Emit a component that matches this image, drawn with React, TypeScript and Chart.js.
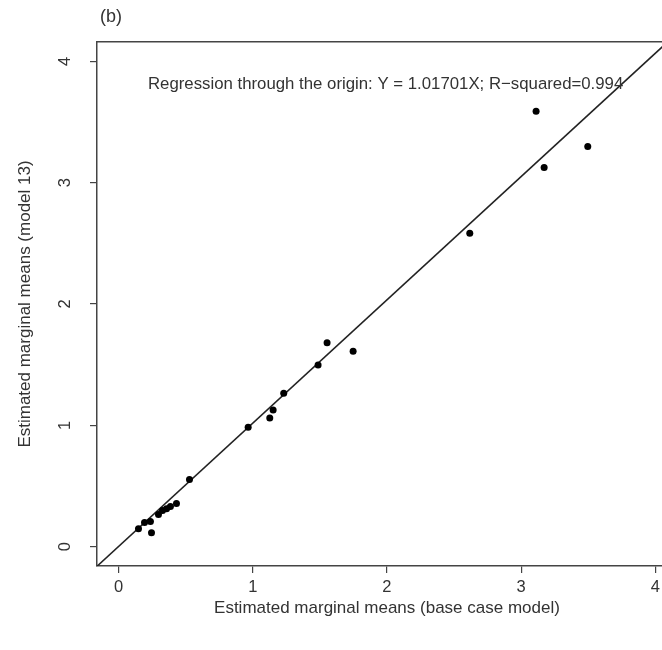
import React, { useEffect, useRef } from "react";
import { Chart, registerables } from "chart.js";

Chart.register(...registerables);

// Data: base case model (x) vs model 13 (y)
const baseCase = [0.149, 0.194, 0.238, 0.246, 0.298, 0.328, 0.358, 0.387, 0.432, 0.529, 0.966, 1.127, 1.152, 1.231, 1.487, 1.554, 1.748, 2.617, 3.111, 3.171, 3.496];
const model13 = [0.148, 0.198, 0.206, 0.115, 0.264, 0.297, 0.313, 0.33, 0.355, 0.553, 0.984, 1.061, 1.127, 1.264, 1.498, 1.68, 1.61, 2.584, 3.59, 3.126, 3.299];
const slope = 1.01701;
const lineXs = [-0.3, 4.3];
const xTicks = [0, 1, 2, 3, 4];
const yTicks = [0, 1, 2, 3, 4];
const xRange = [-0.16, 4.049];
const yRange = [-0.16, 4.16];
const regressionText = "Regression through the origin: Y = 1.01701X; R\u2212squared=0.994";
const textPos = [1.99, 3.81];
const xTitleCenter = 2;
const panelLabel = "(b)";
const xTitle = "Estimated marginal means (base case model)";
const yTitle = "Estimated marginal means (model 13)";

const FONT = '"Liberation Sans", Arial, Helvetica, sans-serif';
const INK = "#333";
const AXIS = "#444";

export default function App() {
  const ref = useRef<HTMLCanvasElement | null>(null);

  useEffect(() => {
    if (!ref.current) return;
    const points = baseCase.map((x, i) => ({ x, y: model13[i] }));
    const linePts = lineXs.map((x) => ({ x, y: x * slope }));

    const annot = {
      id: "annot",
      afterDatasetsDraw(chart: any) {
        const { ctx, scales } = chart;
        ctx.save();
        ctx.fillStyle = INK;
        ctx.textAlign = "center";
        ctx.textBaseline = "middle";
        ctx.font = `16.8px ${FONT}`;
        ctx.fillText(
          regressionText,
          scales.x.getPixelForValue(textPos[0]),
          scales.y.getPixelForValue(textPos[1])
        );
        ctx.font = `17px ${FONT}`;
        ctx.fillText(xTitle, scales.x.getPixelForValue(xTitleCenter), chart.chartArea.bottom + 42);
        ctx.font = `18px ${FONT}`;
        ctx.fillText(panelLabel, chart.chartArea.left + 14, 17);
        ctx.restore();
      },
    };

    const chart = new Chart(ref.current, {
      type: "scatter",
      data: {
        datasets: [
          {
            type: "line",
            data: linePts,
            borderColor: "#222",
            borderWidth: 1.5,
            pointRadius: 0,
            fill: false,
            tension: 0,
            clip: 0,
            order: 2,
          } as any,
          {
            data: points,
            backgroundColor: "#000",
            borderColor: "#000",
            pointRadius: 3.5,
            borderWidth: 0,
            order: 1,
          },
        ],
      },
      options: {
        animation: false,
        responsive: false,
        maintainAspectRatio: false,
        layout: { padding: 0, autoPadding: false },
        plugins: {
          legend: { display: false },
          tooltip: { enabled: false },
          title: { display: false },
        },
        scales: {
          x: {
            type: "linear",
            position: "bottom",
            min: xRange[0],
            max: xRange[1],
            afterBuildTicks: (s: any) => {
              s.ticks = xTicks.map((v) => ({ value: v }));
            },
            ticks: {
              includeBounds: false,
              color: INK,
              font: { family: FONT, size: 16.5 },
              padding: 5,
              maxRotation: 0,
              minRotation: 0,
              callback: (v: any) => String(v),
            },
            grid: {
              display: true,
              drawOnChartArea: false,
              drawTicks: true,
              tickLength: 7,
              color: AXIS,
              lineWidth: 1.2,
            },
            border: { display: true, color: AXIS, width: 1.5 },
            afterFit: (s: any) => {
              s.height = 84;
              s.paddingLeft = 0;
              s.paddingRight = 0;
            },
          },
          xTop: {
            type: "linear",
            position: "top",
            min: xRange[0],
            max: xRange[1],
            ticks: { display: false },
            grid: { display: false, drawTicks: false },
            border: { display: true, color: AXIS, width: 1.5 },
            afterFit: (s: any) => {
              s.height = 42;
              s.paddingLeft = 0;
              s.paddingRight = 0;
            },
          },
          y: {
            type: "linear",
            position: "left",
            min: yRange[0],
            max: yRange[1],
            afterBuildTicks: (s: any) => {
              s.ticks = yTicks.map((v) => ({ value: v }));
            },
            ticks: {
              includeBounds: false,
              color: INK,
              font: { family: FONT, size: 16.5 },
              padding: 20,
              minRotation: 90,
              maxRotation: 90,
              crossAlign: "center",
              callback: (v: any) => String(v),
            },
            grid: {
              display: true,
              drawOnChartArea: false,
              drawTicks: true,
              tickLength: 7,
              color: AXIS,
              lineWidth: 1.2,
            },
            border: { display: true, color: AXIS, width: 1.5 },
            title: {
              display: true,
              text: yTitle,
              color: INK,
              font: { family: FONT, size: 17 },
              padding: { top: 15, bottom: 0 },
            },
            afterFit: (s: any) => {
              s.width = 97;
              s.paddingTop = 0;
              s.paddingBottom = 0;
            },
          },
        },
      } as any,
      plugins: [annot],
    });
    return () => chart.destroy();
  }, []);

  return (
    <div style={{ position: "fixed", left: 0, top: 0, width: 662, height: 650, background: "#fff" }}>
      <canvas ref={ref} width={662} height={650} style={{ display: "block" }} />
    </div>
  );
}
